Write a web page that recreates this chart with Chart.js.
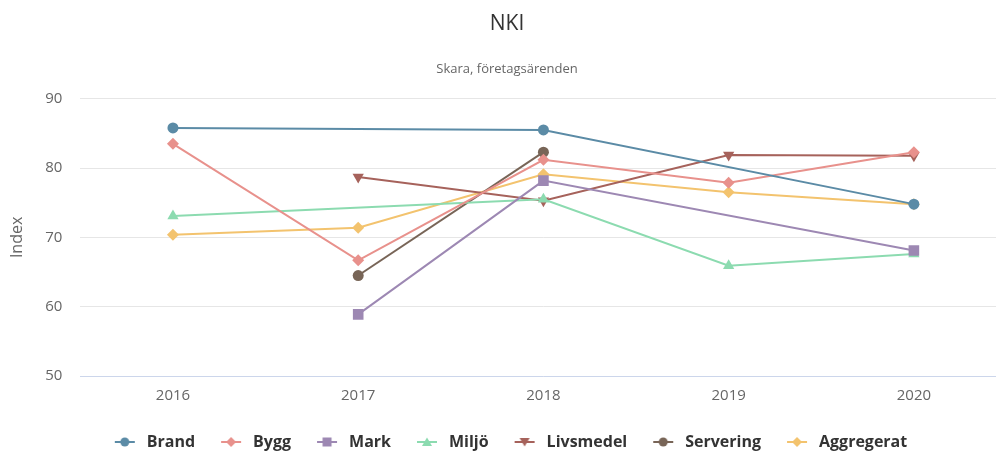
<!DOCTYPE html>
<html lang="sv">
<head>
  <meta charset="UTF-8">
  <title>NKI</title>
  <script src="https://cdn.jsdelivr.net/npm/chart.js"></script>
  <style>
    html, body { margin: 0; padding: 0; background: #fff; overflow: hidden; }
    #wrap { width: 1014px; height: 452px; }
  </style>
</head>
<body>
  <div id="wrap"><canvas id="nkiChart"></canvas></div>
  <script>
    // data
    const years = ['2016', '2017', '2018', '2019', '2020'];
    const brand = [85.8, null, 85.5, null, 74.8];
    const bygg = [83.5, 66.7, 81.2, 77.9, 82.3];
    const mark = [null, 58.9, 78.2, null, 68.1];
    const miljo = [73.1, null, 75.5, 65.9, 67.6];
    const livsmedel = [null, 78.7, 75.3, 81.9, 81.8];
    const servering = [null, 64.5, 82.3, null, null];
    const aggregerat = [70.4, 71.4, 79.1, 76.5, 74.8];
    const yTicks = [50, 60, 70, 80, 90];

    const series = [
      { label: 'Brand', data: brand, color: '#5b8ba6', style: 'circle', rot: 0 },
      { label: 'Bygg', data: bygg, color: '#e8918c', style: 'rectRot', rot: 0 },
      { label: 'Mark', data: mark, color: '#9d88b3', style: 'rect', rot: 0 },
      { label: 'Miljö', data: miljo, color: '#8cdbb0', style: 'triangle', rot: 0 },
      { label: 'Livsmedel', data: livsmedel, color: '#a6625b', style: 'triangle', rot: 180 },
      { label: 'Servering', data: servering, color: '#786557', style: 'circle', rot: 0 },
      { label: 'Aggregerat', data: aggregerat, color: '#f3c36e', style: 'rectRot', rot: 0 }
    ];
    const markerSize = { circle: 5.5, rect: 7.5, rectRot: 6, triangle: 6.5 };

    // legend icon: line segment with the marker, some blank room on the left
    function legendIcon(color, style, rot) {
      const c = document.createElement('canvas');
      c.width = 32; c.height = 12;
      const g = c.getContext('2d');
      g.translate(8, 0);
      g.strokeStyle = color; g.lineWidth = 2;
      g.beginPath(); g.moveTo(0, 6); g.lineTo(20, 6); g.stroke();
      g.fillStyle = color;
      g.beginPath();
      if (style === 'circle') g.arc(10, 6, 4.5, 0, Math.PI * 2);
      else if (style === 'rect') g.rect(5.5, 1.5, 9, 9);
      else if (style === 'rectRot') { g.moveTo(10, 1); g.lineTo(15, 6); g.lineTo(10, 11); g.lineTo(5, 6); }
      else if (rot === 180) { g.moveTo(5, 2); g.lineTo(15, 2); g.lineTo(10, 10.5); }
      else { g.moveTo(10, 1.5); g.lineTo(15, 10); g.lineTo(5, 10); }
      g.closePath(); g.fill();
      return c;
    }

    const ctx = document.getElementById('nkiChart').getContext('2d');
    new Chart(ctx, {
      type: 'line',
      data: {
        labels: years,
        datasets: series.map(s => ({
          label: s.label,
          data: s.data,
          borderColor: s.color,
          backgroundColor: s.color,
          borderWidth: 2,
          pointStyle: s.style,
          pointRotation: s.rot,
          pointRadius: markerSize[s.style],
          pointBorderWidth: 0,
          spanGaps: true,
          tension: 0,
          icon: legendIcon(s.color, s.style, s.rot)
        }))
      },
      options: {
        responsive: true,
        maintainAspectRatio: false,
        animation: false,
        layout: { padding: { left: 0, right: 0, top: 9, bottom: -8 } },
        plugins: {
          title: {
            display: true,
            text: 'NKI',
            color: '#333333',
            font: { family: 'Open Sans', size: 21, weight: 'normal' },
            padding: { top: 2, bottom: 25 }
          },
          subtitle: {
            display: true,
            text: 'Skara, företagsärenden',
            color: '#666666',
            font: { family: 'Open Sans', size: 13 },
            padding: { bottom: 22 }
          },
          legend: {
            position: 'bottom',
            labels: {
              usePointStyle: true,
              pointStyleWidth: 32,
              padding: 18,
              color: '#333333',
              font: { family: 'Open Sans', size: 16, weight: 'bold' },
              generateLabels(chart) {
                return chart.data.datasets.map((ds, i) => ({
                  text: ds.label,
                  pointStyle: ds.icon,
                  fillStyle: ds.borderColor,
                  strokeStyle: ds.borderColor,
                  lineWidth: 0,
                  hidden: !chart.isDatasetVisible(i),
                  datasetIndex: i,
                  fontColor: '#333333'
                }));
              }
            }
          },
          tooltip: { enabled: false }
        },
        scales: {
          x: {
            offset: true,
            grid: { display: false, drawTicks: false },
            border: { display: true, color: '#ccd6eb', width: 1 },
            ticks: { color: '#666666', font: { family: 'Open Sans', size: 15 }, padding: 11 }
          },
          y: {
            min: 50,
            max: 90,
            afterBuildTicks(axis) { axis.ticks = yTicks.map(v => ({ value: v })); },
            grid: { color: '#e6e6e6', drawTicks: false },
            border: { display: false },
            ticks: { color: '#666666', font: { family: 'Open Sans', size: 15 }, padding: 18 },
            title: {
              display: true,
              text: 'Index',
              color: '#666666',
              font: { family: 'Open Sans', size: 16 },
              padding: { top: 8, bottom: 0 }
            }
          }
        }
      }
    });
  </script>
</body>
</html>
